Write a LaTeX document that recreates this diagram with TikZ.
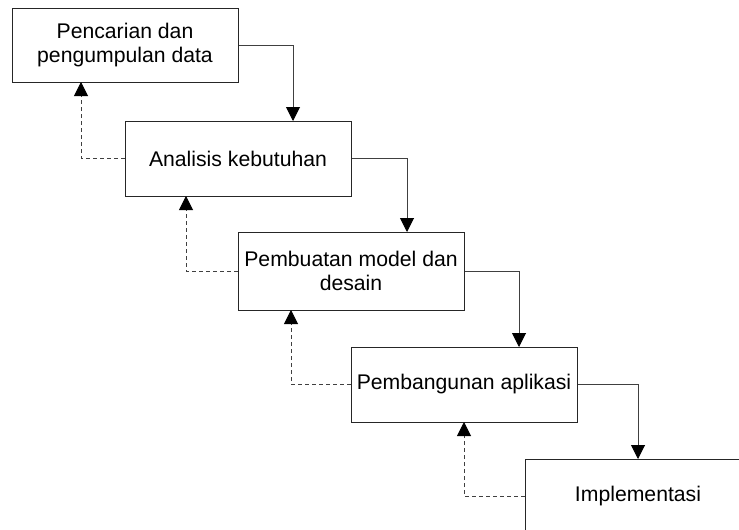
\documentclass[tikz,border=0pt]{standalone}
\usepackage{fontspec}
\setmainfont{Liberation Sans}
\usetikzlibrary{arrows.meta}
\begin{document}
\begin{tikzpicture}[x=1pt,y=-1pt,
  stage/.style={draw=black!85, line width=1pt, fill=white, minimum width=226pt, inner sep=0pt, align=center, font=\fontsize{21.2}{24}\selectfont},
  flow/.style={draw=black!75, line width=1pt, -{Triangle[width=14pt,length=14pt,black]}},
  back/.style={draw=black!75, line width=1pt, dashed, dash pattern=on 4pt off 3pt, -{Triangle[width=14pt,length=14pt,black]}}]
\useasboundingbox (0,0) rectangle (739,530);
\node[stage, minimum height=74pt] (b1) at (125,45) {Pencarian dan\\pengumpulan data};
\node[stage, minimum height=75pt] (b2) at (238,158.5) {Analisis kebutuhan};
\node[stage, minimum height=78pt] (b3) at (351,271) {Pembuatan model dan\\desain};
\node[stage, minimum height=75pt] (b4) at (464,384.5) {Pembangunan aplikasi};
\node[stage, minimum height=75pt] (b5) at (638,496.5) {Implementasi};
% forward arrow targets
\coordinate (f2) at (293,121);
\coordinate (f3) at (407,232);
\coordinate (f4) at (519,347);
\coordinate (f5) at (638,459);
% feedback arrow targets
\coordinate (r1) at (81,82);
\coordinate (r2) at (186,196);
\coordinate (r3) at (291,310);
\coordinate (r4) at (464,422);
\draw[flow] (b1.east) -| (f2);
\draw[flow] (b2.east) -| (f3);
\draw[flow] (b3.east) -| (f4);
\draw[flow] (b4.east) -| (f5);
\draw[back] (b2.west) -| (r1);
\draw[back] (b3.west) -| (r2);
\draw[back] (b4.west) -| (r3);
\draw[back] (b5.west) -| (r4);
\end{tikzpicture}
\end{document}
